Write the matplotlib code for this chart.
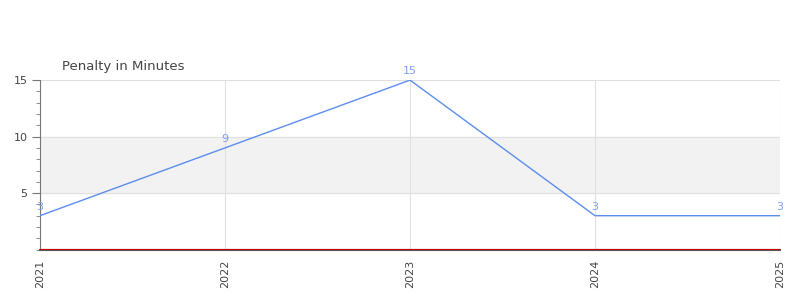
import matplotlib.pyplot as plt
from matplotlib.ticker import MultipleLocator

years = ['2021', '2022', '2023', '2024', '2025']
penalty = [3, 9, 15, 3, 3]
yticks = [5, 10, 15]

line_color = '#5b8def'
label_color = '#7a9ff0'
text_color = '#444444'

fig = plt.figure(figsize=(8, 3), dpi=100)
ax = fig.add_axes([0.05, 0.168, 0.925, 0.565])

x = list(range(len(years)))
ax.axhspan(5, 10, color='#f2f2f2', zorder=0)
ax.plot(x, penalty, color=line_color, linewidth=1, zorder=3)
for xi, v in zip(x, penalty):
    ax.text(xi, v + 0.35, str(v), color=label_color, fontsize=8,
            ha='center', va='bottom', zorder=4)

ax.set_xlim(0, len(years) - 1)
ax.set_ylim(0, 15)
ax.set_xticks(x)
ax.set_xticklabels(years, rotation=90, fontsize=8, color=text_color)
ax.set_yticks(yticks)
ax.set_yticklabels([str(t) for t in yticks], fontsize=8, color=text_color)
ax.yaxis.set_minor_locator(MultipleLocator(1))
ax.tick_params(axis='x', length=0, pad=7)
ax.tick_params(axis='y', which='both', colors='#777777', labelcolor=text_color)
ax.tick_params(axis='y', which='major', length=6, pad=3)
ax.tick_params(axis='y', which='minor', length=3)

ax.grid(True, color='#e0e0e0', linewidth=0.8, zorder=1)
ax.set_axisbelow(True)

for side in ['top', 'right']:
    ax.spines[side].set_visible(False)
ax.spines['left'].set_color('#777777')
ax.spines['bottom'].set_color('#555555')
ax.spines['bottom'].set_linewidth(1.5)
ax.axhline(0.06, color='#cc0000', linewidth=0.8, zorder=5)

ax.set_title('Penalty in Minutes', loc='left', fontsize=9.5, color=text_color,
             x=0.03, pad=7)

fig.savefig('out.png', dpi=100)
